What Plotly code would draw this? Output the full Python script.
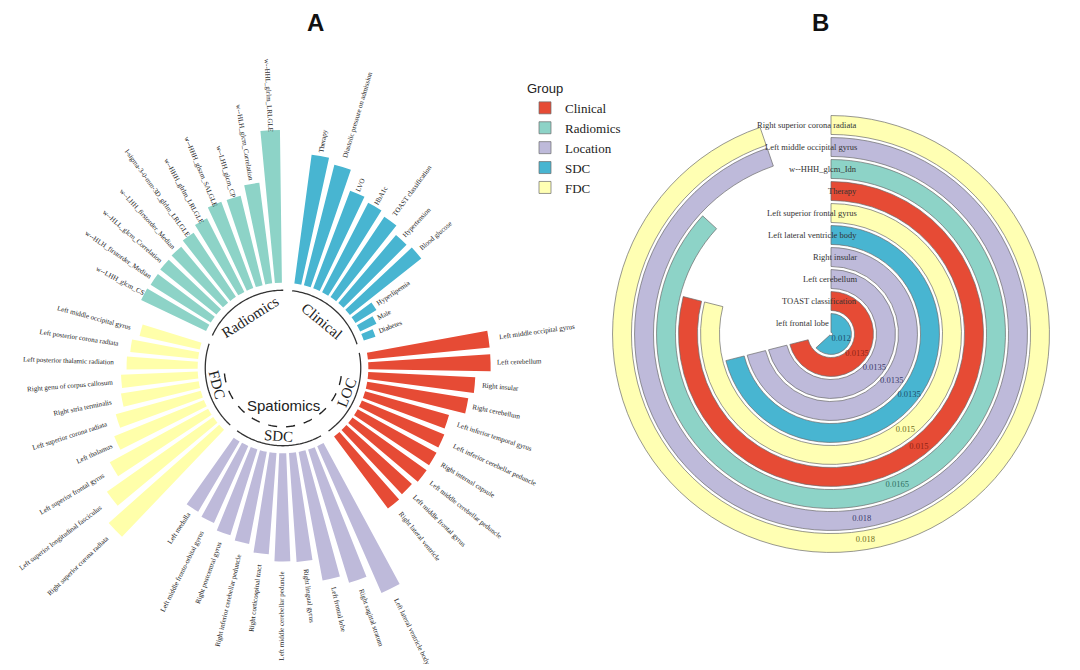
import numpy as np
import plotly.graph_objects as go

W, H = 1080, 670

# ---------------- Panel A data (clockwise order inside each group) ----------------
clinical_labels = ["Therapy", "Diastolic pressure on admission", "LVO", "HbA1c",
                   "TOAST classification", "Hypertension", "Blood glucose",
                   "Hyperlipemia", "Male", "Diabetes"]
clinical_values = [137, 131, 110, 106, 102, 94, 96, 26, 19, 13]

loc_labels = ["Left middle occipital gyrus", "Left cerebellum", "Right insular",
              "Right cerebellum", "Left inferior temporal gyrus",
              "Left inferior cerebellar peduncle", "Right internal capsule",
              "Left middle cerebellar peduncle", "Left middle frontal gyrus",
              "Right lateral ventricle"]
loc_values = [129, 129, 113, 108, 92, 94, 95, 96, 93, 95]

sdc_labels = ["Left lateral ventricle body", "Right sagittal stratum", "Left frontal lobe",
              "Right lingual gyrus", "Left middle cerebellar peduncle",
              "Right corticospinal tract", "Right inferior cerebellar peduncle",
              "Right postcentral gyrus", "Left middle fronto-orbital gyrus", "Left medulla"]
sdc_values = [169, 147, 138, 115, 114, 107, 99, 95, 89, 86]

fdc_labels = ["Right superior corona radiata", "Left superior longitudinal fasciculus",
              "Left superior frontal gyrus", "Left thalamus", "Left superior corona radiata",
              "Right stria terminalis", "Right genu of corpus callosum",
              "Left posterior thalamic radiation", "Left posterior corona radiata",
              "Left middle occipital gyrus"]
fdc_values = [156, 137, 118, 102, 93, 83, 81, 75, 72, 65]

rad_labels = ["w--LHH_glcm_CS", "w--HLH_firstorder_Median", "w--HLL_glcm_Correlation",
              "w--LHH_firstorder_Median", "l-sigma-3-0-mm-3D_glrlm_LRLGLE",
              "w--HHH_glrlm_LRLGLE", "w--HHH_glszm_SALGLE", "w--LHH_glcm_CP",
              "w--HLH_glcm_Correlation", "w--HHL_glrlm_LRLGLE"]
rad_values = [76, 75, 76, 77, 81, 87, 97, 97, 107, 161]

groupA_names = ["Clinical", "LOC", "SDC", "FDC", "Radiomics"]
groupA_labels = [clinical_labels, loc_labels, sdc_labels, fdc_labels, rad_labels]
groupA_values = [clinical_values, loc_values, sdc_values, fdc_values, rad_values]
groupA_colors = ["#48B5D1", "#E64B35", "#BEBADA", "#FFFFAA", "#8DD3C7"]

# ---------------- Panel B data (inner ring -> outer ring) ----------------
b_features = ["left frontal lobe", "TOAST classification", "Left cerebellum", "Right insular",
              "Left lateral ventricle body", "Left superior frontal gyrus", "Therapy",
              "w--HHH_glcm_Idn", "Left middle occipital gyrus", "Right superior corona radiata"]
b_groups = ["SDC", "Clinical", "Location", "Location", "SDC", "FDC", "Clinical",
            "Radiomics", "Location", "FDC"]
b_values = [0.012, 0.0135, 0.0135, 0.0135, 0.0135, 0.015, 0.015, 0.0165, 0.018, 0.018]
b_value_text = ["0.012", "0.0135", "0.0135", "0.0135", "0.0135", "0.015", "0.015",
                "0.0165", "0.018", "0.018"]

legend_groups = ["Clinical", "Radiomics", "Location", "SDC", "FDC"]
legend_colors = {"Clinical": "#E64B35", "Radiomics": "#8DD3C7", "Location": "#BEBADA",
                 "SDC": "#48B5D1", "FDC": "#FFFFB3"}
value_text_colors = {"Clinical": "#8E2314", "Radiomics": "#2F6F62", "Location": "#3B3B6B",
                     "SDC": "#1D4E6B", "FDC": "#6E6E22"}

# ---------------- layout geometry ----------------
SERIF = "Liberation Serif"
SANS = "Liberation Sans"

A_cx, A_cy, A_Rpx = 283, 368, 256
A_RMAX = 270.0
A_R0 = 90.0
A_SLOTS = 55
A_OFFSET = 10.0
slot = 360.0 / A_SLOTS
kA = A_Rpx / A_RMAX

B_cx, B_cy, B_Rpx = 831, 334, 220
B_FULL = 0.019  # value that would close the full circle
B_RRANGE = [0.5, 10.5]


def dom(cx, cy, R):
    return [(cx - R) / W, (cx + R) / W], [1 - (cy + R) / H, 1 - (cy - R) / H]


A_dx, A_dy = dom(A_cx, A_cy, A_Rpx)
B_dx, B_dy = dom(B_cx, B_cy, B_Rpx)

fig = go.Figure()
annotations = []


def norm_angle(a):
    return ((a + 180) % 360) - 180


# ---------------- Panel A ----------------
start = 0
group_spans = []
for name, labs, vals, col in zip(groupA_names, groupA_labels, groupA_values, groupA_colors):
    idx = np.arange(len(vals)) + start
    theta = A_OFFSET + idx * slot
    fig.add_trace(go.Barpolar(
        r=vals, theta=theta, base=A_R0, width=slot * 0.72,
        marker=dict(color=col, line=dict(width=0)),
        subplot="polar", showlegend=False, hoverinfo="skip"))
    group_spans.append((name, theta[0] - slot * 0.5, theta[-1] + slot * 0.5))
    for lab, v, th in zip(labs, vals, theta):
        w_units = len(lab) * 0.47 * 7 / kA
        rc = A_R0 + v + 4 / kA + w_units / 2
        x = rc * np.sin(np.radians(th))
        y = rc * np.cos(np.radians(th))
        if (th % 360) < 180:
            ta = th - 90
        else:
            ta = th - 270
        annotations.append(dict(
            x=x, y=y, xref="x", yref="y", text=lab, showarrow=False,
            textangle=norm_angle(ta), xanchor="center", yanchor="middle",
            font=dict(family=SERIF, size=7, color="#222222")))
    start += len(vals) + 1

# group arcs and group names
for name, t0, t1 in group_spans:
    th = np.linspace(t0, t1, 60)
    fig.add_trace(go.Scatterpolar(
        r=np.full_like(th, 82.0), theta=th, mode="lines",
        line=dict(color="#333333", width=1.3), subplot="polar",
        showlegend=False, hoverinfo="skip"))
    tc = (t0 + t1) / 2
    rl = 64 if name in ("Radiomics", "Clinical") else 72
    x = rl * np.sin(np.radians(tc))
    y = rl * np.cos(np.radians(tc))
    ta = tc if not (90 < tc < 270) else tc - 180
    annotations.append(dict(
        x=x, y=y, xref="x", yref="y", text=name, showarrow=False,
        textangle=norm_angle(ta), xanchor="center", yanchor="middle",
        font=dict(family=SERIF, size=15, color="#222222")))

# Spatiomics dashed arc (LOC + SDC + FDC)
th = np.linspace(98, 266, 80)
fig.add_trace(go.Scatterpolar(
    r=np.full_like(th, 62.0), theta=th, mode="lines",
    line=dict(color="#222222", width=1.4, dash="dash"), subplot="polar",
    showlegend=False, hoverinfo="skip"))
annotations.append(dict(x=0, y=-40, xref="x", yref="y", text="Spatiomics", showarrow=False,
                        xanchor="center", yanchor="middle",
                        font=dict(family=SANS, size=15, color="#222222")))

# ---------------- Panel B ----------------
ring_pos = np.arange(1, len(b_values) + 1)
b_angles = [v / B_FULL * 360 for v in b_values]
for g in legend_groups:
    sel = [i for i, gg in enumerate(b_groups) if gg == g]
    fig.add_trace(go.Barpolar(
        r=[0.86] * len(sel),
        base=[ring_pos[i] - 0.43 for i in sel],
        theta=[b_angles[i] / 2 for i in sel],
        width=[b_angles[i] for i in sel],
        marker=dict(color=legend_colors[g], line=dict(color="#6b6b6b", width=0.7)),
        name=g, subplot="polar2", hoverinfo="skip"))

fig.add_trace(go.Scatterpolar(
    r=ring_pos, theta=[a / 2 for a in b_angles], mode="text", text=b_value_text,
    textposition="middle center",
    textfont=dict(family=SERIF, size=8.5, color=[value_text_colors[g] for g in b_groups]),
    subplot="polar2", showlegend=False, hoverinfo="skip"))

# ring name labels (right aligned at the start line, y = radial position)
for i, (pos, lab) in enumerate(zip(ring_pos, b_features)):
    annotations.append(dict(
        x=0, y=pos - B_RRANGE[0], xref="x2", yref="y2", text=lab, showarrow=False,
        xanchor="right", yanchor="middle", xshift=0 if i == 0 else 28,
        font=dict(family=SERIF, size=8.5, color="#333333")))

# panel letters
annotations.append(dict(x=315 / W, y=1 - 22 / H, xref="paper", yref="paper", text="<b>A</b>",
                        showarrow=False, xanchor="center", yanchor="middle",
                        font=dict(family=SANS, size=24, color="#111111")))
annotations.append(dict(x=820 / W, y=1 - 22 / H, xref="paper", yref="paper", text="<b>B</b>",
                        showarrow=False, xanchor="center", yanchor="middle",
                        font=dict(family=SANS, size=24, color="#111111")))

hidden_ang = dict(visible=True, showgrid=False, showline=False, showticklabels=False,
                  ticks="", direction="clockwise", rotation=90)

b_span = B_RRANGE[1] - B_RRANGE[0]
fig.update_layout(
    width=W, height=H, margin=dict(l=0, r=0, t=0, b=0),
    paper_bgcolor="white", plot_bgcolor="rgba(0,0,0,0)",
    template="none",
    polar=dict(domain=dict(x=A_dx, y=A_dy), bgcolor="rgba(0,0,0,0)",
               radialaxis=dict(visible=False, range=[0, A_RMAX]),
               angularaxis=hidden_ang, barmode="overlay"),
    polar2=dict(domain=dict(x=B_dx, y=B_dy), bgcolor="rgba(0,0,0,0)",
                radialaxis=dict(visible=False, range=B_RRANGE),
                angularaxis=hidden_ang, barmode="overlay"),
    # overlay frame for panel A labels: same scale as the polar radial axis, whole page
    xaxis=dict(domain=[0, 1], range=[(0 - A_cx) / kA, (W - A_cx) / kA],
               visible=False, fixedrange=True),
    yaxis=dict(domain=[0, 1], range=[(A_cy - H) / kA, A_cy / kA],
               visible=False, fixedrange=True),
    # overlay frame for panel B ring labels
    xaxis2=dict(domain=B_dx, range=[-b_span, b_span], visible=False, fixedrange=True,
                anchor="y2"),
    yaxis2=dict(domain=B_dy, range=[-b_span, b_span], visible=False, fixedrange=True,
                anchor="x2"),
    annotations=annotations,
    legend=dict(x=525 / W, y=1 - 76 / H, xanchor="left", yanchor="top",
                title=dict(text="Group", font=dict(family=SANS, size=13, color="#222222")),
                font=dict(family=SERIF, size=13, color="#222222"),
                tracegroupgap=0, itemwidth=30, bgcolor="rgba(0,0,0,0)"),
    showlegend=True,
)

fig.write_html("out.html", config={"displayModeBar": False},
               post_script="document.body.style.margin='0';")
